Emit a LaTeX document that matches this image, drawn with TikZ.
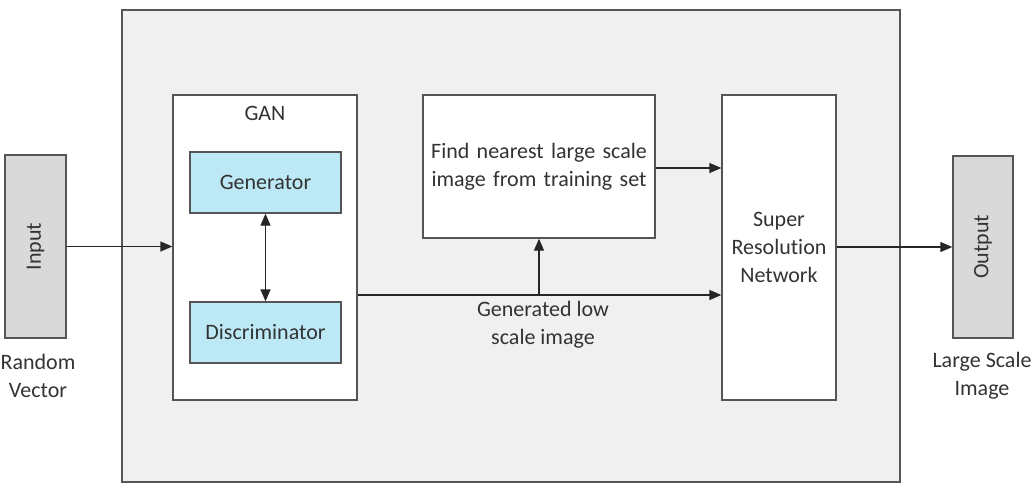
\documentclass[tikz,border=0pt]{standalone}
\usepackage{fontspec}
\setmainfont{Carlito}[Ligatures=NoCommon]
\usetikzlibrary{arrows.meta}
\definecolor{panelgray}{HTML}{F0F0F0}
\definecolor{iogray}{HTML}{D9D9D9}
\definecolor{blockblue}{HTML}{BDE9F7}
\definecolor{linegray}{HTML}{555555}
\definecolor{textgray}{HTML}{333333}

\begin{document}
\begin{tikzpicture}[x=0.75pt,y=-0.75pt,
  font=\fontsize{16.5}{21}\selectfont, text=textgray,
  box/.style={draw=linegray, line width=1pt, inner sep=0pt, align=center},
  flow/.style={-{Triangle[length=9pt,width=7.5pt]}, line width=1pt, draw=black!85}]
  \useasboundingbox (0,0) rectangle (1033,487);
  % outer panel
  \node[box, fill=panelgray, minimum width=583.5pt, minimum height=354pt] (panel) at (511,246) {};
  % input / output
  \node[box, fill=iogray, minimum width=45.75pt, minimum height=137.25pt] (input) at (35.5,246.5) {};
  \node[rotate=90] at (input) {Input};
  \node[align=center] (rv) at (38,376) {Random\\Vector};
  \node[box, fill=iogray, minimum width=45pt, minimum height=136.5pt] (output) at (983,247) {};
  \node[rotate=90] at (output) {Output};
  \node[align=center] (ls) at (982,376) {Large Scale\\Image};
  % GAN block
  \node[box, fill=white, minimum width=138pt, minimum height=228.75pt] (gan) at (265,247.5) {};
  \node (ganlabel) at (265,113) {GAN};
  \node[box, fill=blockblue, minimum width=113.25pt, minimum height=45.75pt] (gen) at (265.5,182.5) {Generator};
  \node[box, fill=blockblue, minimum width=113.25pt, minimum height=45.75pt] (disc) at (265.5,332.5) {Discriminator};
  % other blocks
  \node[box, fill=white, minimum width=174pt, minimum height=107.25pt, text width=170pt] (find) at (539,166.5)
    {Find nearest large scale\\image from training set\\[10pt]};
  \node[box, fill=white, minimum width=85.5pt, minimum height=228.75pt] (sr) at (779,247.5) {Super\\Resolution\\Network};
  \coordinate (split) at (539,295);
  % connectors
  \draw[flow] (input) -- (gan.west |- input);
  \draw[flow, {Triangle[length=9pt,width=7.5pt]}-{Triangle[length=9pt,width=7.5pt]}] (gen) -- (disc);
  \draw[flow] (gan.east |- split) -- (sr.west |- split);
  \draw[flow] (split) -- (find);
  \draw[flow] (find.east |- 0,168) -- (sr.west |- 0,168);
  \draw[flow] (sr.east |- output) -- (output);
  \node[align=center] (glabel) at (543,325) {Generated low\\scale image};
\end{tikzpicture}
\end{document}
